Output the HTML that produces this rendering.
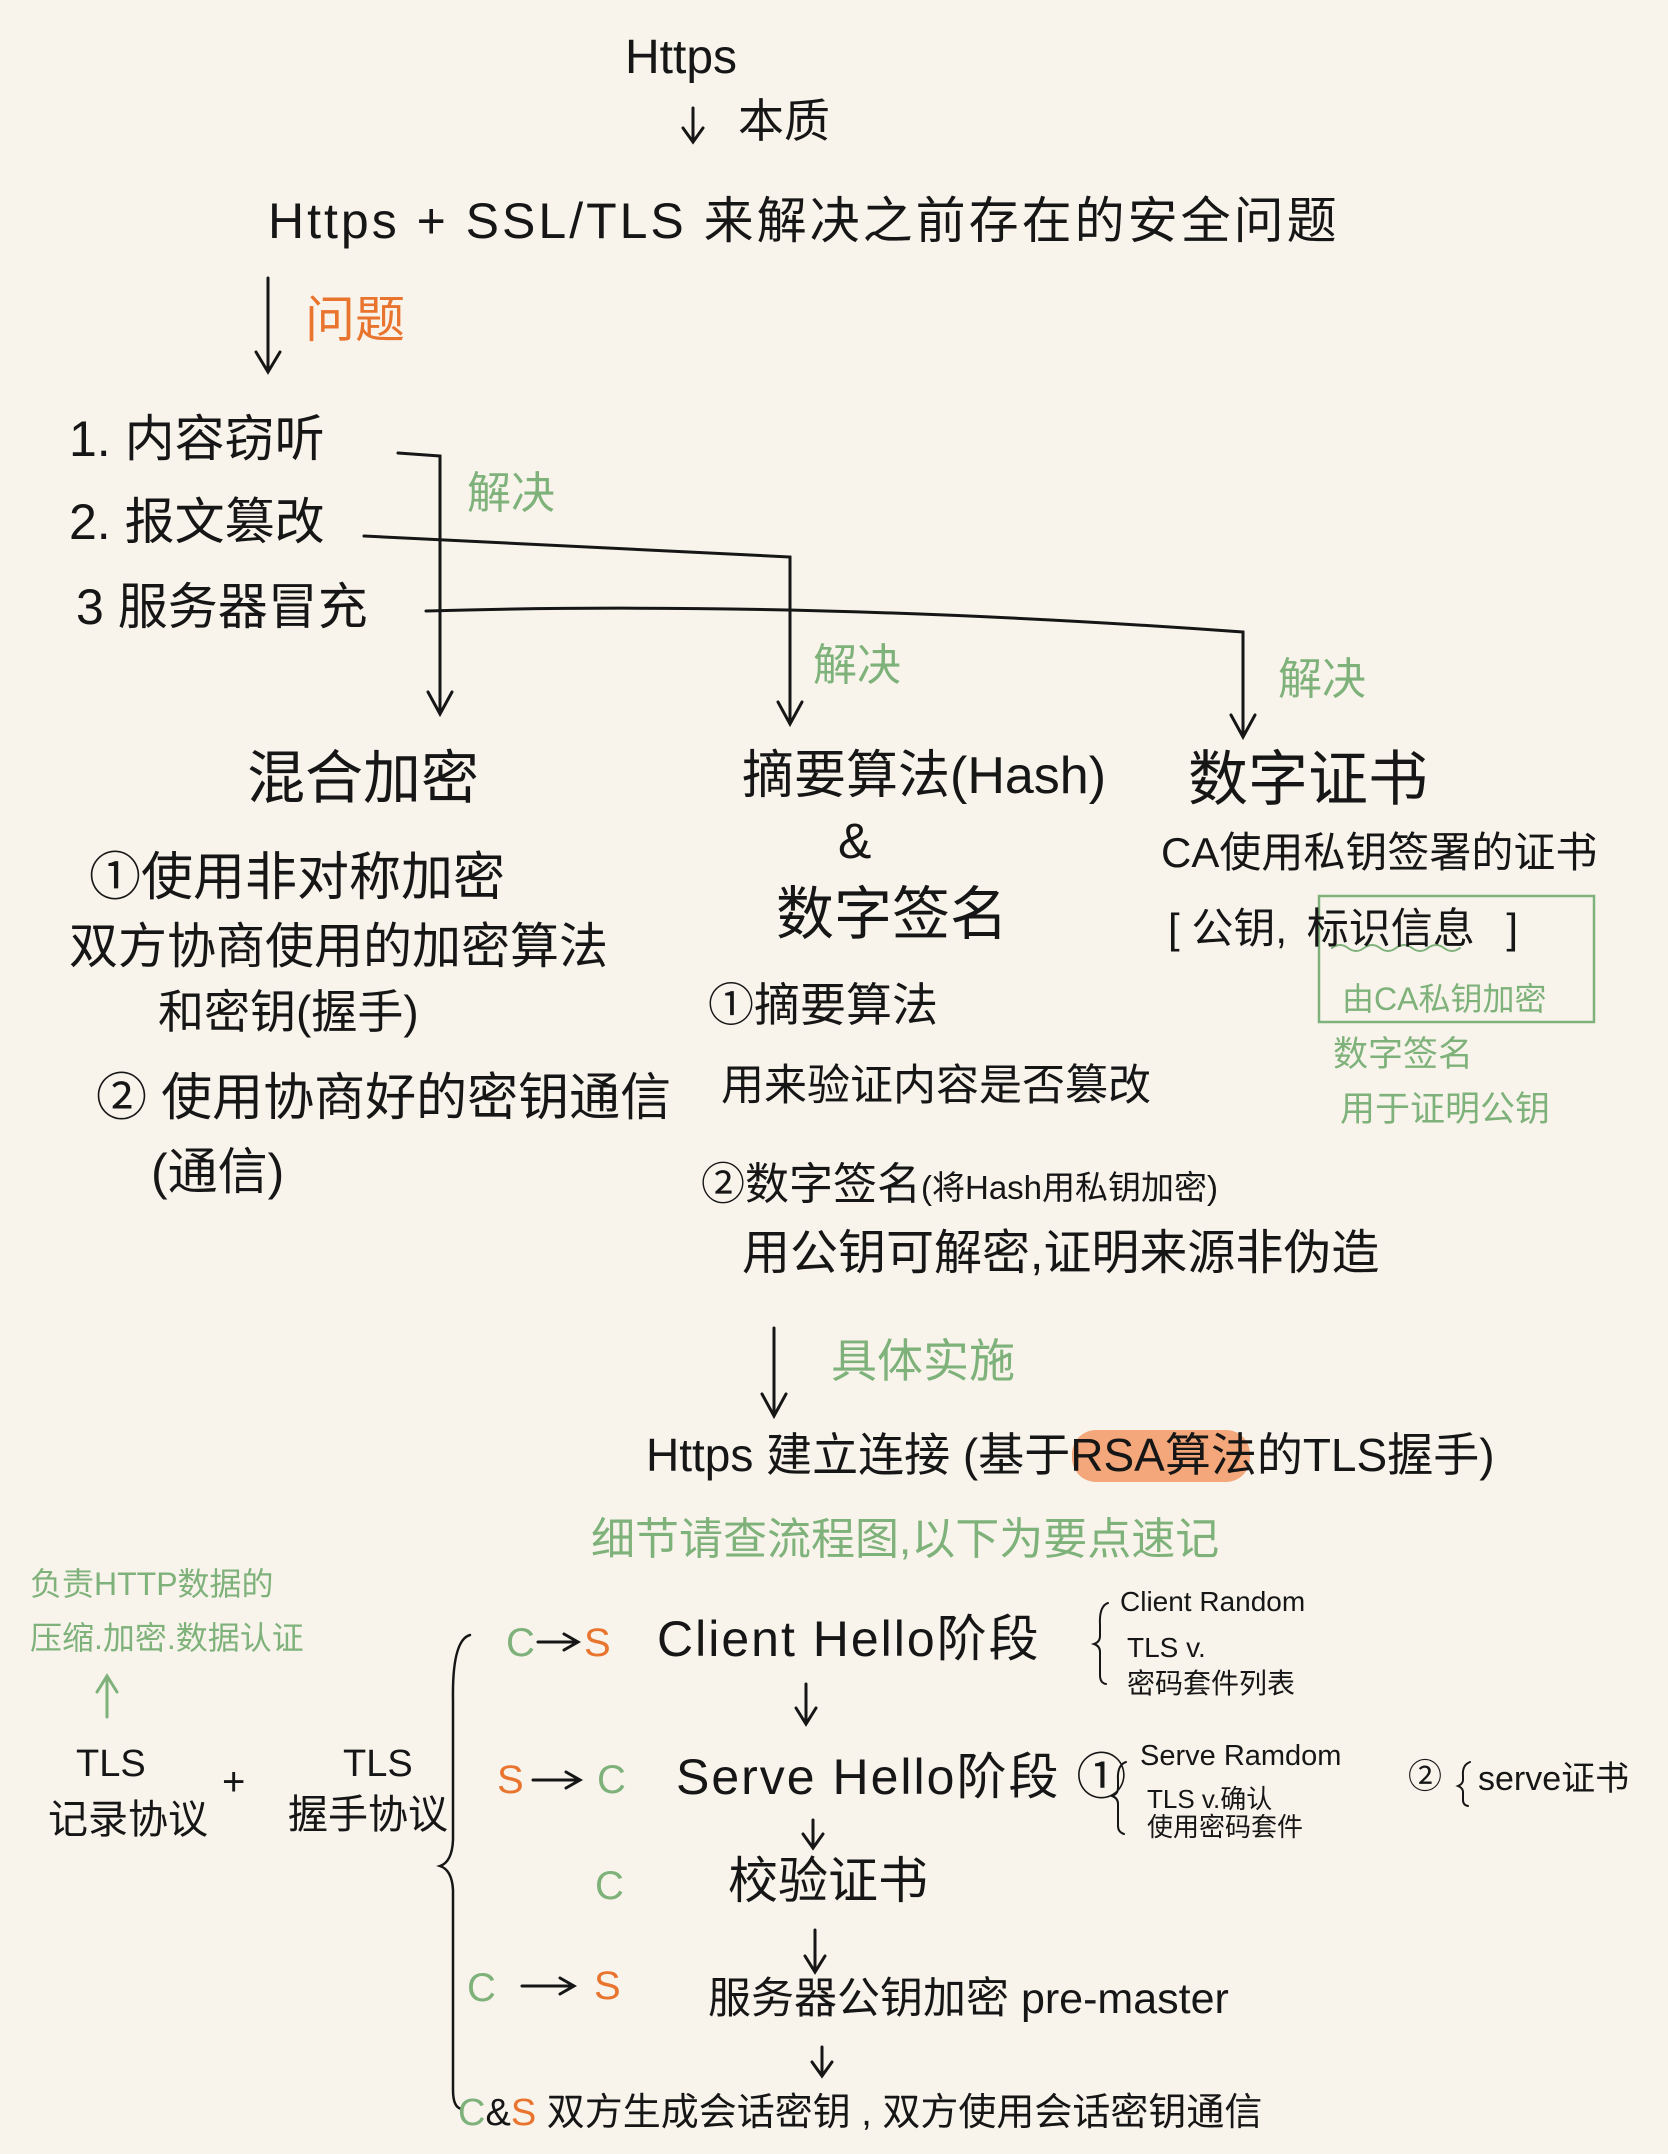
<!DOCTYPE html>
<html><head><meta charset="utf-8"><style>
html,body{margin:0;padding:0}
body{width:1668px;height:2154px;background:#f8f4ec;position:relative;overflow:hidden;font-family:"Liberation Sans","Noto Sans CJK SC",sans-serif;color:#161616}
.t{position:absolute;white-space:nowrap;line-height:1}
.g{color:#7fb27a}
.o{color:#e8742e}
svg{position:absolute;left:0;top:0}
</style></head><body>
<svg width="1668" height="2154" fill="none" stroke="#161616" stroke-width="3" stroke-linecap="round">
<path d="M693 108 V140 M683 128 L693 142 L703 128"/>
<path d="M268 278 V370 M256 352 L268 372 L280 352"/>
<path d="M398 453 L440 456 V712 M428 692 L440 714 L452 692"/>
<path d="M364 536 L790 557 V722 M778 702 L790 724 L802 702"/>
<path d="M426 611 Q800 600 1243 632 V735 M1231 715 L1243 737 L1255 715"/>
<rect x="1319" y="896" width="275" height="126" stroke="#7fb27a" stroke-width="2.5"/>
<path d="M1332 948 q8 -6 16 0 t16 0 t16 0 t16 0 t16 0 t16 0 t16 0 t16 0" stroke="#7fb27a" stroke-width="2"/>
<path d="M774 1328 V1414 M762 1394 L774 1416 L786 1394"/>
<path d="M107 1717 V1678 M97 1692 L107 1676 L117 1692" stroke="#7fb27a"/>
<path d="M470 1635 Q452 1640 453 1700 V1840 Q452 1862 440 1866 Q452 1870 453 1890 V2090 Q453 2108 462 2109" stroke-width="2.5"/>
<path d="M1108 1603 Q1099 1606 1100 1625 V1636 Q1100 1642 1094 1644 Q1100 1646 1100 1652 V1675 Q1100 1683 1106 1684" stroke-width="2"/>
<path d="M1126 1762 Q1117 1765 1118 1780 V1788 Q1118 1794 1112 1796 Q1118 1798 1118 1804 V1826 Q1118 1832 1124 1834" stroke-width="2"/>
<path d="M1470 1762 Q1462 1765 1463 1776 V1780 Q1463 1784 1458 1786 Q1463 1788 1463 1792 V1800 Q1463 1805 1468 1806" stroke-width="2"/>
<path d="M806 1684 V1722 M796 1708 L806 1724 L816 1708"/>
<path d="M813 1820 V1846 M803 1834 L813 1848 L823 1834"/>
<path d="M815 1930 V1970 M805 1956 L815 1972 L825 1956"/>
<path d="M822 2047 V2074 M812 2062 L822 2076 L832 2062"/>
<path d="M538 1642 H576 M564 1634 L578 1642 L564 1650"/>
<path d="M533 1780 H578 M566 1772 L580 1780 L566 1788"/>
<path d="M522 1986 H572 M560 1978 L574 1986 L560 1994"/>
</svg>

<div class="t" style="left:625px;top:34px;font-size:48px">Https</div>
<div class="t" style="left:738px;top:98px;font-size:46px">本质</div>
<div class="t" style="left:268px;top:196px;font-size:50px;letter-spacing:3px">Https + SSL/TLS 来解决之前存在的安全问题</div>
<div class="t o" style="left:305px;top:295px;font-size:50px">问题</div>

<div class="t" style="left:69px;top:414px;font-size:50px">1. 内容窃听</div>
<div class="t" style="left:69px;top:497px;font-size:50px">2. 报文篡改</div>
<div class="t" style="left:76px;top:582px;font-size:50px">3 服务器冒充</div>
<div class="t g" style="left:467px;top:472px;font-size:44px">解决</div>
<div class="t g" style="left:813px;top:644px;font-size:44px">解决</div>
<div class="t g" style="left:1278px;top:658px;font-size:44px">解决</div>

<div class="t" style="left:247px;top:750px;font-size:58px">混合加密</div>
<div class="t" style="left:89px;top:852px;font-size:52px">①使用非对称加密</div>
<div class="t" style="left:69px;top:923px;font-size:49px">双方协商使用的加密算法</div>
<div class="t" style="left:158px;top:989px;font-size:46px">和密钥(握手)</div>
<div class="t" style="left:96px;top:1072px;font-size:51px">② 使用协商好的密钥通信</div>
<div class="t" style="left:151px;top:1147px;font-size:50px">(通信)</div>

<div class="t" style="left:742px;top:750px;font-size:52px">摘要算法(Hash)</div>
<div class="t" style="left:838px;top:816px;font-size:50px">&amp;</div>
<div class="t" style="left:776px;top:886px;font-size:58px">数字签名</div>
<div class="t" style="left:708px;top:982px;font-size:46px">①摘要算法</div>
<div class="t" style="left:721px;top:1065px;font-size:43px">用来验证内容是否篡改</div>
<div class="t" style="left:701px;top:1163px;font-size:44px">②数字签名<span style="font-size:33px">(将Hash用私钥加密)</span></div>
<div class="t" style="left:742px;top:1230px;font-size:48px">用公钥可解密,证明来源非伪造</div>

<div class="t" style="left:1188px;top:750px;font-size:60px">数字证书</div>
<div class="t" style="left:1161px;top:832px;font-size:42px">CA使用私钥签署的证书</div>
<div class="t" style="left:1168px;top:908px;font-size:42px">[ 公钥, <span style="margin-left:8px">标识信息</span> <span style="margin-left:20px">]</span></div>
<div class="t g" style="left:1342px;top:983px;font-size:32px">由CA私钥加密</div>
<div class="t g" style="left:1333px;top:1037px;font-size:35px">数字签名</div>
<div class="t g" style="left:1340px;top:1092px;font-size:35px">用于证明公钥</div>

<div class="t g" style="left:831px;top:1338px;font-size:46px">具体实施</div>
<div style="position:absolute;left:1072px;top:1430px;width:178px;height:52px;background:#f3a77a;border-radius:24px"></div>
<div class="t" style="left:646px;top:1432px;font-size:46px">Https 建立连接 (基于RSA算法的TLS握手)</div>
<div class="t g" style="left:591px;top:1518px;font-size:44px">细节请查流程图,以下为要点速记</div>

<div class="t g" style="left:30px;top:1568px;font-size:32px">负责HTTP数据的</div>
<div class="t g" style="left:30px;top:1622px;font-size:32px">压缩.加密.数据认证</div>
<div class="t" style="left:76px;top:1745px;font-size:38px">TLS</div>
<div class="t" style="left:48px;top:1800px;font-size:40px">记录协议</div>
<div class="t" style="left:222px;top:1762px;font-size:40px">+</div>
<div class="t" style="left:343px;top:1745px;font-size:38px">TLS</div>
<div class="t" style="left:288px;top:1795px;font-size:40px">握手协议</div>

<div class="t g" style="left:506px;top:1623px;font-size:40px">C</div>
<div class="t o" style="left:584px;top:1623px;font-size:40px">S</div>
<div class="t" style="left:657px;top:1614px;font-size:50px;letter-spacing:2px">Client Hello阶段</div>
<div class="t" style="left:1120px;top:1588px;font-size:28px">Client Random</div>
<div class="t" style="left:1127px;top:1634px;font-size:28px">TLS v.</div>
<div class="t" style="left:1127px;top:1670px;font-size:28px">密码套件列表</div>

<div class="t o" style="left:497px;top:1760px;font-size:40px">S</div>
<div class="t g" style="left:597px;top:1760px;font-size:40px">C</div>
<div class="t" style="left:676px;top:1752px;font-size:50px;letter-spacing:2px">Serve Hello阶段 ①</div>
<div class="t" style="left:1140px;top:1742px;font-size:29px">Serve Ramdom</div>
<div class="t" style="left:1147px;top:1786px;font-size:26px">TLS v.确认</div>
<div class="t" style="left:1147px;top:1814px;font-size:26px">使用密码套件</div>
<div class="t" style="left:1408px;top:1760px;font-size:34px">②</div>
<div class="t" style="left:1478px;top:1762px;font-size:34px">serve证书</div>

<div class="t g" style="left:595px;top:1866px;font-size:40px">C</div>
<div class="t" style="left:728px;top:1856px;font-size:50px">校验证书</div>

<div class="t g" style="left:467px;top:1968px;font-size:40px">C</div>
<div class="t o" style="left:594px;top:1966px;font-size:40px">S</div>
<div class="t" style="left:708px;top:1978px;font-size:43px">服务器公钥加密 pre-master</div>

<div class="t" style="left:458px;top:2094px;font-size:38px"><span class="g">C</span>&amp;<span class="o">S</span> 双方生成会话密钥 , 双方使用会话密钥通信</div>
</body></html>
